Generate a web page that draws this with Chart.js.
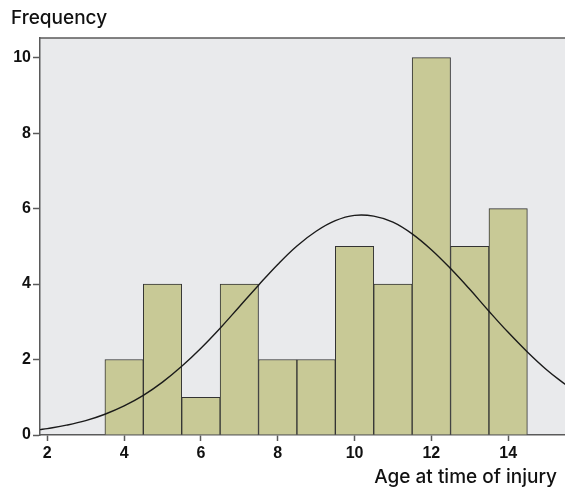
<!DOCTYPE html>
<html>
<head>
<meta charset="utf-8">
<script src="https://cdn.jsdelivr.net/npm/chart.js@4/dist/chart.umd.min.js"></script>
<style>
  html, body { margin: 0; padding: 0; background: #fff; }
  #wrap { width: 565px; height: 487px; }
</style>
</head>
<body>
<div id="wrap"><canvas id="chart" width="565" height="487"></canvas></div>
<script>
// histogram bins (age) and counts
const ages = [4, 5, 6, 7, 8, 9, 10, 11, 12, 13, 14];
const counts = [2, 4, 1, 4, 2, 2, 5, 4, 10, 5, 6];

// normal curve
const curveX = [1.8, 2, 2.5, 3, 3.5, 4, 4.5, 5, 5.5, 6, 6.5, 7, 7.5, 8, 8.5, 9, 9.5, 10, 10.5, 11, 11.5, 12, 12.5, 13, 13.5, 14, 14.5, 15, 15.5];
const curveY = [0.14, 0.17, 0.26, 0.38, 0.55, 0.77, 1.05, 1.40, 1.82, 2.30, 2.83, 3.40, 3.97, 4.52, 5.01, 5.40, 5.68, 5.82, 5.80, 5.64, 5.33, 4.91, 4.41, 3.86, 3.28, 2.72, 2.20, 1.73, 1.33];

const xTicks = [2, 4, 6, 8, 10, 12, 14];
const yTicks = [0, 2, 4, 6, 8, 10];

const FONT = "'Liberation Sans', Arial, sans-serif";
const TITLE_FONT = "Inter, 'Liberation Sans', sans-serif";
const AXIS = "#5a5a5a";

const frame = {
  id: "frame",
  beforeDraw(chart) {
    const { ctx, chartArea: a } = chart;
    ctx.save();
    ctx.fillStyle = "#e9eaec";
    ctx.fillRect(a.left, a.top, a.right - a.left, a.bottom - a.top);
    ctx.restore();
  },
  afterDraw(chart) {
    const { ctx, chartArea: a } = chart;
    ctx.save();
    ctx.strokeStyle = AXIS;
    ctx.lineWidth = 1.5;
    ctx.beginPath();
    ctx.moveTo(a.left, a.top);
    ctx.lineTo(a.right, a.top);
    ctx.stroke();
    ctx.fillStyle = "#111";
    ctx.font = "500 19px " + TITLE_FONT;
    ctx.textBaseline = "middle";
    ctx.textAlign = "left";
    ctx.fillText("Frequency", 11, 18);
    ctx.font = "500 19px " + TITLE_FONT;
    ctx.textAlign = "right";
    ctx.fillText("Age at time of injury", 557, 477);
    ctx.restore();
  }
};

new Chart(document.getElementById("chart"), {
  type: "bar",
  data: {
    datasets: [
      {
        type: "line",
        data: curveX.map((x, i) => ({ x, y: curveY[i] })),
        borderColor: "#1a1a1a",
        borderWidth: 1.4,
        pointRadius: 0,
        tension: 0.4,
        fill: false,
        order: 0
      },
      {
        type: "bar",
        data: ages.map((x, i) => ({ x, y: counts[i] })),
        backgroundColor: "#c8c996",
        borderColor: "#333",
        borderWidth: 1,
        barPercentage: 1,
        categoryPercentage: 1,
        order: 1
      }
    ]
  },
  options: {
    responsive: false,
    animation: false,
    layout: { padding: { top: 38, left: 0, right: 0, bottom: 0 } },
    plugins: { legend: { display: false }, tooltip: { enabled: false } },
    scales: {
      x: {
        type: "linear",
        min: 1.81,
        max: 15.48,
        offset: false,
        afterBuildTicks: s => { s.ticks = xTicks.map(v => ({ value: v })); },
        afterFit: s => { s.height = 52; },
        grid: { drawOnChartArea: false, drawTicks: true, tickLength: 6, tickColor: AXIS, tickWidth: 1.5, offset: false },
        border: { display: true, color: AXIS, width: 1.5 },
        ticks: { color: "#111", padding: 3, maxRotation: 0, font: { family: FONT, size: 16, weight: "bold" } }
      },
      y: {
        min: 0,
        max: 10.52,
        afterBuildTicks: s => { s.ticks = yTicks.map(v => ({ value: v })); },
        afterFit: s => { s.width = 40; },
        grid: { drawOnChartArea: false, drawTicks: true, tickLength: 7, tickColor: AXIS, tickWidth: 1.5 },
        border: { display: true, color: AXIS, width: 1.5 },
        ticks: { color: "#111", padding: 2, font: { family: FONT, size: 16, weight: "bold" } }
      }
    }
  },
  plugins: [frame]
});
</script>
</body>
</html>
